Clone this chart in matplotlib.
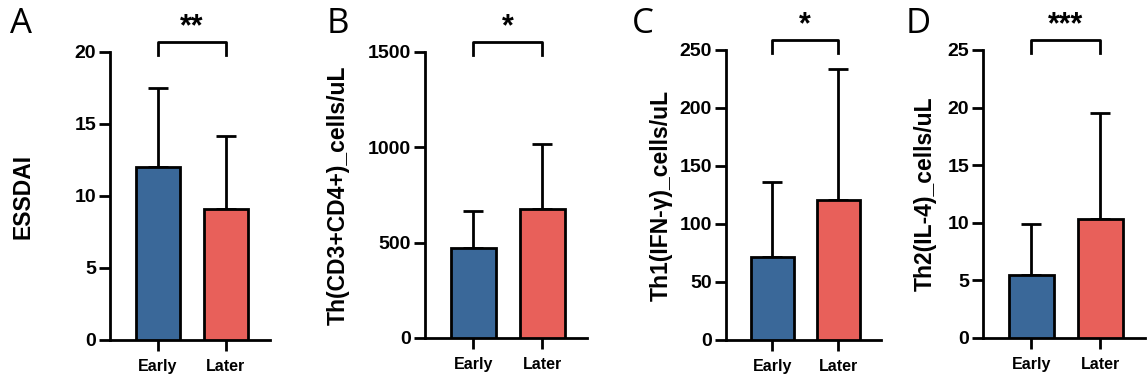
"""Four-panel Early vs Later bar chart (mean + SD) with significance brackets."""

import matplotlib
matplotlib.use("Agg")
import matplotlib.pyplot as plt
import matplotlib.transforms as mtransforms
import numpy as np

plt.rcParams["font.family"] = ["Liberation Sans", "DejaVu Sans"]
plt.rcParams["font.weight"] = "bold"

W, H = 1148, 377

groups = ["Early", "Later"]
panel_letters = ["A", "B", "C", "D"]
ylabels = ["ESSDAI", "Th(CD3+CD4+)_cells/uL", "Th1(IFN-γ)_cells/uL", "Th2(IL-4)_cells/uL"]
stars = ["**", "*", "*", "***"]

essdai_mean = [12.0, 9.1]
essdai_sd = [5.5, 5.1]
th_mean = [470, 675]
th_sd = [198, 342]
th1_mean = [71.5, 120.5]
th1_sd = [64.5, 113]
th2_mean = [5.5, 10.3]
th2_sd = [4.4, 9.2]

means = [essdai_mean, th_mean, th1_mean, th2_mean]
sds = [essdai_sd, th_sd, th1_sd, th2_sd]
ymax = [20, 1500, 250, 25]
ysteps = [5, 500, 50, 5]

# pixel layout: axis left, y=0 row, y=max row, bar pitch, letter x, ylabel right edge
layout = [
    (110, 340, 52, 68, 10, 34),
    (425, 338, 52, 69, 327, 350),
    (726, 340, 50, 66, 632, 673),
    (983, 338, 50, 69, 906, 937),
]
BLUE = "#3A6899"
RED = "#E8605A"
LW = 2.0

fig = plt.figure(figsize=(W / 100, H / 100), dpi=100)

for i in range(4):
    left, y0, ytop, pitch, letter_x, lab_x = layout[i]
    xl, xr = -0.7, 1.65
    width = (xr - xl) * pitch
    ax = fig.add_axes([left / W, (H - y0) / H, width / W, (y0 - ytop) / H])
    x = np.arange(len(groups))
    ax.bar(x, means[i], width=0.65, color=[BLUE, RED], edgecolor="black",
           linewidth=LW, zorder=3)
    ax.errorbar(x, means[i], yerr=[[0, 0], sds[i]], fmt="none", ecolor="black",
                elinewidth=LW, capsize=7.5, capthick=LW, zorder=2)
    ax.set_xlim(xl, xr)
    ax.set_ylim(0, ymax[i])
    ax.set_yticks(np.arange(0, ymax[i] + 1, ysteps[i]))
    ax.set_xticks(x, groups)
    for s in ["top", "right"]:
        ax.spines[s].set_visible(False)
    for s in ["left", "bottom"]:
        ax.spines[s].set_linewidth(LW)
    ax.tick_params(axis="y", labelsize=14, width=LW, length=8, pad=2)
    ax.tick_params(axis="x", labelsize=11.5, width=LW, length=8, pad=6)
    ax.set_ylabel(ylabels[i], fontsize=16.5, fontweight="bold")
    ax.yaxis.set_label_coords((lab_x - left) / width, 0.5)

    # significance bracket
    tr = mtransforms.blended_transform_factory(ax.transData, ax.transAxes)
    ax.plot([0, 0, 1, 1], [0.99, 1.035, 1.035, 0.99], color="black", lw=LW,
            transform=tr, clip_on=False)
    ax.text(0.5, 1.035, stars[i], transform=tr, ha="center", va="bottom",
            fontsize=22, fontweight="bold")

    fig.text(letter_x / W, 1 - 7 / H, panel_letters[i], ha="left", va="top",
             fontsize=25, fontweight="normal", family=["Open Sans", "DejaVu Sans"])

fig.savefig("out.png", dpi=100)
